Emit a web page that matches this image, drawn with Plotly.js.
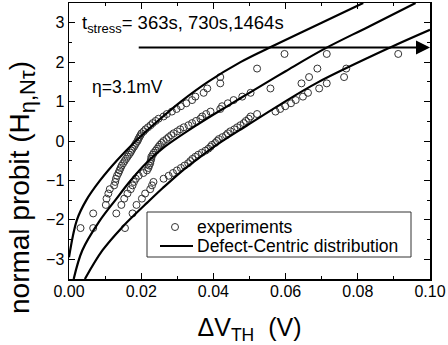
<!DOCTYPE html>
<html><head><meta charset="utf-8">
<script src="https://cdn.plot.ly/plotly-3.0.1.min.js"></script>
<style>html,body{margin:0;padding:0;background:#fff}#chart{width:448px;height:345px}</style>
</head><body><div id="chart"></div>
<script>
// probit values (median-rank normal quantiles, 51 samples)
const probit = [-2.208,-1.837,-1.621,-1.462,-1.332,-1.222,-1.125,-1.038,-0.957,-0.882,-0.812,-0.746,-0.684,-0.623,-0.565,-0.509,-0.454,-0.401,-0.348,-0.297,-0.246,-0.196,-0.147,-0.098,-0.049,0,
 0.049,0.098,0.147,0.196,0.246,0.297,0.348,0.401,0.454,0.509,0.565,0.623,0.684,0.746,0.812,0.882,0.957,1.038,1.125,1.222,1.332,1.462,1.621,1.837,2.208];
const dvth363 = [0.0032,0.0067,0.0102,0.0104,0.0109,0.0113,0.0125,0.0128,0.0130,0.0133,0.0137,0.0140,0.0143,0.0146,0.0150,0.0154,0.0158,0.0162,0.0166,0.0170,0.0173,0.0176,0.0180,0.0183,0.0186,0.0190,
 0.0192,0.0195,0.0198,0.0201,0.0207,0.0212,0.0219,0.0226,0.0232,0.0240,0.0248,0.0262,0.0271,0.0285,0.0298,0.0310,0.0325,0.0341,0.0350,0.0373,0.0383,0.0419,0.0419,0.0521,0.0597];
const dvth730 = [0.0067,0.0131,0.0145,0.0153,0.0162,0.0171,0.0176,0.0180,0.0185,0.0193,0.0206,0.0216,0.0220,0.0222,0.0225,0.0226,0.0228,0.0228,0.0232,0.0235,0.0240,0.0244,0.0248,0.0252,0.0257,0.0262,
 0.0270,0.0276,0.0283,0.0290,0.0300,0.0308,0.0318,0.0331,0.0341,0.0352,0.0364,0.0369,0.0380,0.0392,0.0419,0.0424,0.0440,0.0456,0.0480,0.0503,0.0558,0.0644,0.0665,0.0688,0.0714];
const dvth1464 = [0.0155,0.0176,0.0187,0.0202,0.0211,0.0225,0.0230,0.0234,0.0262,0.0276,0.0288,0.0299,0.0310,0.0320,0.0330,0.0336,0.0342,0.0350,0.0358,0.0368,0.0378,0.0386,0.0392,0.0396,0.0405,0.0410,
 0.0415,0.0425,0.0435,0.0440,0.0447,0.0458,0.0466,0.0475,0.0484,0.0490,0.0498,0.0503,0.0521,0.0572,0.0585,0.0599,0.0615,0.0628,0.0648,0.0662,0.0693,0.0714,0.0762,0.0768,0.0912];

// Defect-centric fit curves
const fit363x = [0, 0.0022, 0.0048, 0.0086, 0.0132, 0.0185, 0.0245, 0.0310, 0.0385, 0.0475, 0.0556, 0.0700, 0.0815];
const fit363y = [-2.95, -2.0, -1.5, -1.0, -0.5, 0, 0.5, 1.0, 1.5, 2.0, 2.37, 3.0, 3.5];
const fit730x = [0.0013, 0.0037, 0.0083, 0.0130, 0.0169, 0.0215, 0.0262, 0.0355, 0.0447, 0.0503, 0.0600, 0.0706, 0.0830, 0.0960];
const fit730y = [-3.5, -2.77, -2.05, -1.48, -1.02, -0.55, -0.17, 0.41, 0.93, 1.24, 1.77, 2.33, 2.90, 3.5];
const fit1464x = [0.0044, 0.0093, 0.0148, 0.0185, 0.0216, 0.0259, 0.0308, 0.0350, 0.0401, 0.0494, 0.0586, 0.0688, 0.0887, 0.1];
const fit1464y = [-3.5, -2.77, -2.18, -1.84, -1.57, -1.20, -0.80, -0.50, -0.15, 0.40, 0.93, 1.48, 2.36, 2.82];

const arrowX = [0.0189, 0.1];
const arrowY = [2.37, 2.37];

const legendLabels = ['experiments', 'Defect-Centric distribution'];
const yTitle = 'normal probit (H<sub><span style="font-size:22px">η,Nτ</span></sub>)';

const font = 'Arial, "Liberation Sans", sans-serif';
const mk = {symbol:'circle-open', size:7, color:'#333', line:{width:1, color:'#333'}};
const ln = {color:'#000', width:2.2, shape:'spline', smoothing:1};

const traces = [
  {x:dvth363, y:probit, mode:'markers', type:'scatter', marker:mk},
  {x:dvth730, y:probit, mode:'markers', type:'scatter', marker:mk},
  {x:dvth1464, y:probit, mode:'markers', type:'scatter', marker:mk},
  {x:fit363x, y:fit363y, mode:'lines', type:'scatter', line:ln},
  {x:fit730x, y:fit730y, mode:'lines', type:'scatter', line:ln},
  {x:fit1464x, y:fit1464y, mode:'lines', type:'scatter', line:ln}
];

const axisCommon = {
  showline:true, linecolor:'#000', linewidth:1.5, mirror:'ticks', ticks:'inside', ticklen:6, tickwidth:1, tickcolor:'#000',
  showgrid:false, zeroline:false, tickfont:{family:font, size:16, color:'#000'}
};

const pl = 69, pr = 430, pt = 3, pb = 279;
const fx = p => (p - pl) / (pr - pl);
const fy = p => (pb - p) / (pb - pt);

const layout = {
  width:448, height:345,
  margin:{l:69, r:18, t:3, b:66},
  paper_bgcolor:'#fff', plot_bgcolor:'#fff',
  showlegend:false,
  xaxis:Object.assign({}, axisCommon, {range:[0,0.1], dtick:0.02, tickformat:'.2f', ticklabelstandoff:-3,
     minor:{dtick:0.01, ticks:'inside', ticklen:3, tickcolor:'#000'},
     title:{text:'ΔV<sub>TH</sub>  (V)', font:{family:font, size:25, color:'#000'}, standoff:24}}),
  yaxis:Object.assign({}, axisCommon, {range:[-3.5,3.5], dtick:1,
     minor:{dtick:0.5, ticks:'inside', ticklen:3, tickcolor:'#000'}}),
  shapes:[
    {type:'rect', xref:'paper', yref:'paper', x0:fx(147), x1:fx(411), y0:fy(257), y1:fy(212),
     line:{color:'#333', width:1}, fillcolor:'#fff', layer:'above'},
    {type:'circle', xref:'paper', yref:'paper', x0:fx(171.5), x1:fx(178.5), y0:fy(230.5), y1:fy(223.5),
     line:{color:'#333', width:1}, fillcolor:'rgba(0,0,0,0)', layer:'above'},
    {type:'line', xref:'paper', yref:'paper', x0:fx(160), x1:fx(193), y0:fy(246), y1:fy(246),
     line:{color:'#000', width:2.2}, layer:'above'}
  ],
  annotations:[
    {x:fx(22), y:fy(188), xref:'paper', yref:'paper', xanchor:'center', yanchor:'middle', textangle:-90, showarrow:false,
     text:yTitle, font:{family:font, size:28, color:'#000'}},
    {x:arrowX[1], y:arrowY[1], ax:arrowX[0], ay:arrowY[0], xref:'x', yref:'y', axref:'x', ayref:'y',
     showarrow:true, arrowhead:2, arrowsize:1.4, arrowwidth:2, arrowcolor:'#000', text:''},
    {x:0.0030, y:2.98, xref:'x', yref:'y', xanchor:'left', yanchor:'middle', showarrow:false,
     text:'t<sub>stress</sub>= 363s, 730s,1464s', font:{family:font, size:18.5, color:'#000'}},
    {x:0.0058, y:1.38, xref:'x', yref:'y', xanchor:'left', yanchor:'middle', showarrow:false,
     text:'η=3.1mV', font:{family:font, size:17.5, color:'#000'}},
    {x:fx(195), y:fy(227), xref:'paper', yref:'paper', xanchor:'left', yanchor:'middle', showarrow:false,
     text:legendLabels[0], font:{family:font, size:17.5, color:'#000'}},
    {x:fx(195), y:fy(246), xref:'paper', yref:'paper', xanchor:'left', yanchor:'middle', showarrow:false,
     text:legendLabels[1], font:{family:font, size:17.5, color:'#000'}}
  ]
};

Plotly.newPlot('chart', traces, layout, {staticPlot:true, displayModeBar:false});
</script>
</body></html>
